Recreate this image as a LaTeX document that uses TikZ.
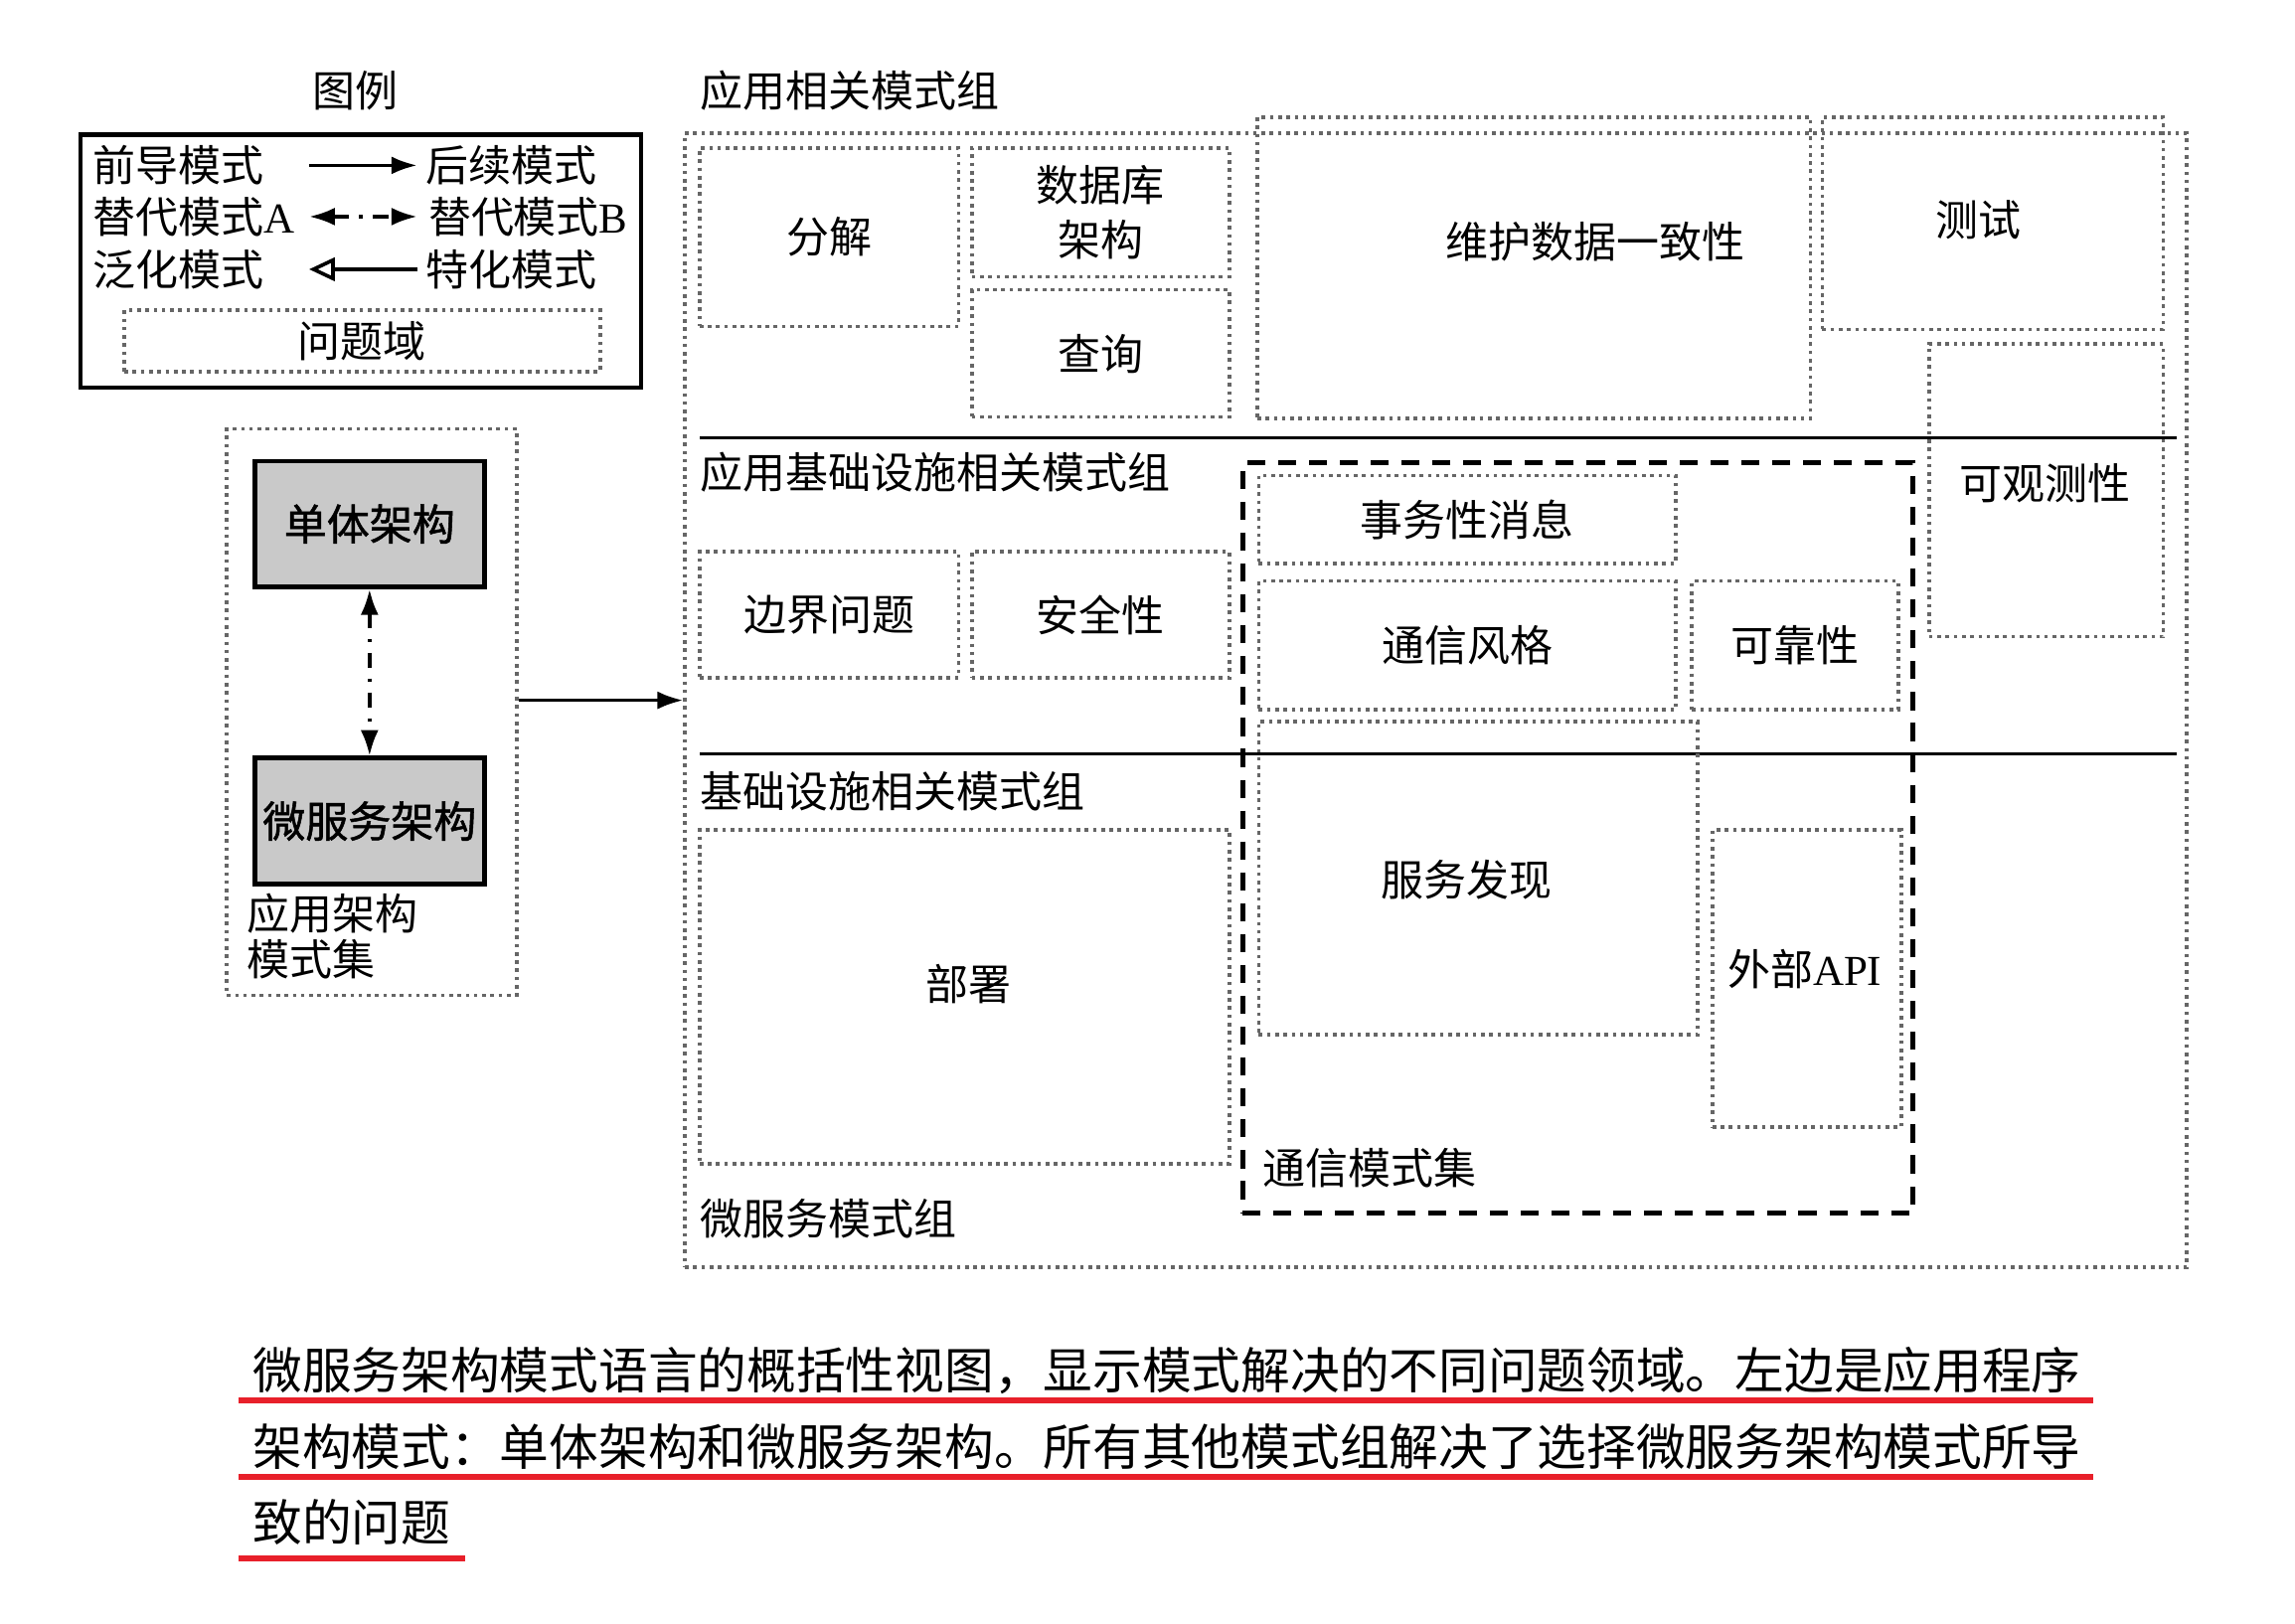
\documentclass[tikz,border=0pt]{standalone}
\usepackage{fontspec}
\setmainfont{Liberation Serif}
\newfontfamily\cjk{Noto Sans CJK SC}
\newfontfamily\cjkmed[FakeBold=1.2]{Noto Sans CJK SC}
\usepackage{xcolor}
\usetikzlibrary{arrows.meta,fit,positioning}
\definecolor{capred}{RGB}{232,32,42}
\tikzset{
  pbox/.style={draw=black!60,line width=0.7pt,dash pattern=on 0.7pt off 0.9pt,inner sep=0pt},
  archbox/.style={draw,line width=0.9pt,fill=black!21,inner sep=0pt},
  archtext/.style={font=\cjkmed\fontsize{8.3pt}{10.5pt}\selectfont},
  commbox/.style={draw,line width=0.9pt,dash pattern=on 3.5pt off 2.5pt,inner sep=0pt},
  grplabel/.style={anchor=west,inner sep=0pt},
  legsucc/.style={-{Latex[length=5pt,width=3.5pt]},line width=0.7pt},
  legalt/.style={{Latex[length=5pt,width=3.5pt]}-{Latex[length=5pt,width=3.5pt]},line width=0.7pt,dash pattern=on 3pt off 2pt on 0.7pt off 2pt},
  leggen/.style={-{Triangle[open,length=5pt,width=4.5pt]},line width=0.7pt},
  capline/.style={capred,line width=1.1pt},
  captext/.style={anchor=base west,inner sep=0pt,font=\cjk\fontsize{9.6pt}{12pt}\selectfont}
}
\begin{document}
\begin{tikzpicture}[x=0.01cm,y=-0.01cm,font=\cjk\fontsize{8.3pt}{10.5pt}\selectfont]
\useasboundingbox (0,0) rectangle (1568,1109);
% legend
\node (legtitle) at (243,62) {图例};
\node[draw,line width=0.8pt,inner sep=0pt,fit={(55,92) (438,265)}] (legend) {};
\node[grplabel] (qiandao) at (63,113) {前导模式};
\node[grplabel] (houxu) at (290,113) {后续模式};
\node[grplabel] (tidaiA) at (63,148) {替代模式{\rmfamily A}};
\node[grplabel] (tidaiB) at (292,148) {替代模式{\rmfamily B}};
\node[grplabel] (fanhua) at (63,184) {泛化模式};
\node[grplabel] (tehua) at (290,184) {特化模式};
\draw[legsucc,shorten <=0.3cm,shorten >=0.05cm] (qiandao) -- (houxu);
\draw[legalt,shorten <=0.09cm,shorten >=0.07cm] (tidaiA) -- (tidaiB);
\draw[leggen,shorten <=0.05cm,shorten >=0.3cm] (tehua) -- (fanhua);
\node[pbox,fit={(85,212) (410,254)},label=center:问题域] (wentiyu) {};
% application architecture patterns
\node[pbox,fit={(155,293) (353,680)}] (archset) {};
\node[archbox,fit={(174,315) (331,401)},label={[archtext]center:单体架构}] (danti) {};
\node[archbox,fit={(174,518) (331,604)},label={[archtext]center:微服务架构}] (weifuwu) {};
\draw[legalt] (danti) -- (weifuwu);
\node[anchor=west,align=left,inner sep=0pt,font=\cjk\fontsize{8.3pt}{8.9pt}\selectfont] (archlbl) at (168,640) {应用架构\\模式集};
% microservice pattern groups
\node[pbox,fit={(468,91) (1494,866)}] (msgroup) {};
\draw[legsucc] (archset.east |- msgroup.west) -- (msgroup.west);
\node[grplabel] (applbl) at (478,62) {应用相关模式组};
\draw[line width=0.6pt] (478,299) -- (1487,299);
\draw[line width=0.6pt] (478,515) -- (1487,515);
\node[pbox,fit={(478,101) (655,223)},label=center:分解] (fenjie) {};
\node[pbox,fit={(664,101) (840,189)},label={[align=center]center:数据库\\架构}] (dbarch) {};
\node[pbox,fit={(664,198) (840,285)},label=center:查询] (chaxun) {};
\node[pbox,fit={(859,80) (1237,286)}] (yizhi) {};
\node at (1090,165) {维护数据一致性};
\node[pbox,fit={(1245,80) (1478,225)}] (ceshi) {};
\node at (1352,150) {测试};
\node[pbox,fit={(1318,235) (1478,435)}] (guance) {};
\node at (1397,330) {可观测性};
% infrastructure of application
\node[grplabel] (applinfralbl) at (478,323) {应用基础设施相关模式组};
\node[pbox,fit={(478,377) (655,463)},label=center:边界问题] (bianjie) {};
\node[pbox,fit={(664,377) (840,463)},label=center:安全性] (anquan) {};
\node[commbox,fit={(849,316) (1307,829)}] (commset) {};
\node[pbox,fit={(860,325) (1145,385)},label=center:事务性消息] (shiwu) {};
\node[pbox,fit={(860,397) (1145,485)},label=center:通信风格] (fengge) {};
\node[pbox,fit={(1156,397) (1297,485)},label=center:可靠性] (kekao) {};
% infrastructure
\node[grplabel] (infralbl) at (478,541) {基础设施相关模式组};
\node[pbox,fit={(478,567) (840,795)}] (bushu) {};
\node at (662,672) {部署};
\node[pbox,fit={(860,493) (1160,707)}] (faxian) {};
\node at (1002,601) {服务发现};
\node[pbox,fit={(1170,567) (1299,770)}] (waibu) {};
\node at (1233,662) {外部{\rmfamily API}};
\node[grplabel] (commlbl) at (862,798) {通信模式集};
\node[grplabel] (mslbl) at (478,833) {微服务模式组};
% caption
\node[captext] (cap1) at (172,949) {微服务架构模式语言的概括性视图，显示模式解决的不同问题领域。左边是应用程序};
\node[captext] (cap2) at (172,1001) {架构模式：单体架构和微服务架构。所有其他模式组解决了选择微服务架构模式所导};
\node[captext] (cap3) at (172,1053) {致的问题};
\draw[capline] (163,957) -- (1430,957);
\draw[capline] (163,1009) -- (1430,1009);
\draw[capline] (163,1065) -- (318,1065);
\end{tikzpicture}
\end{document}
